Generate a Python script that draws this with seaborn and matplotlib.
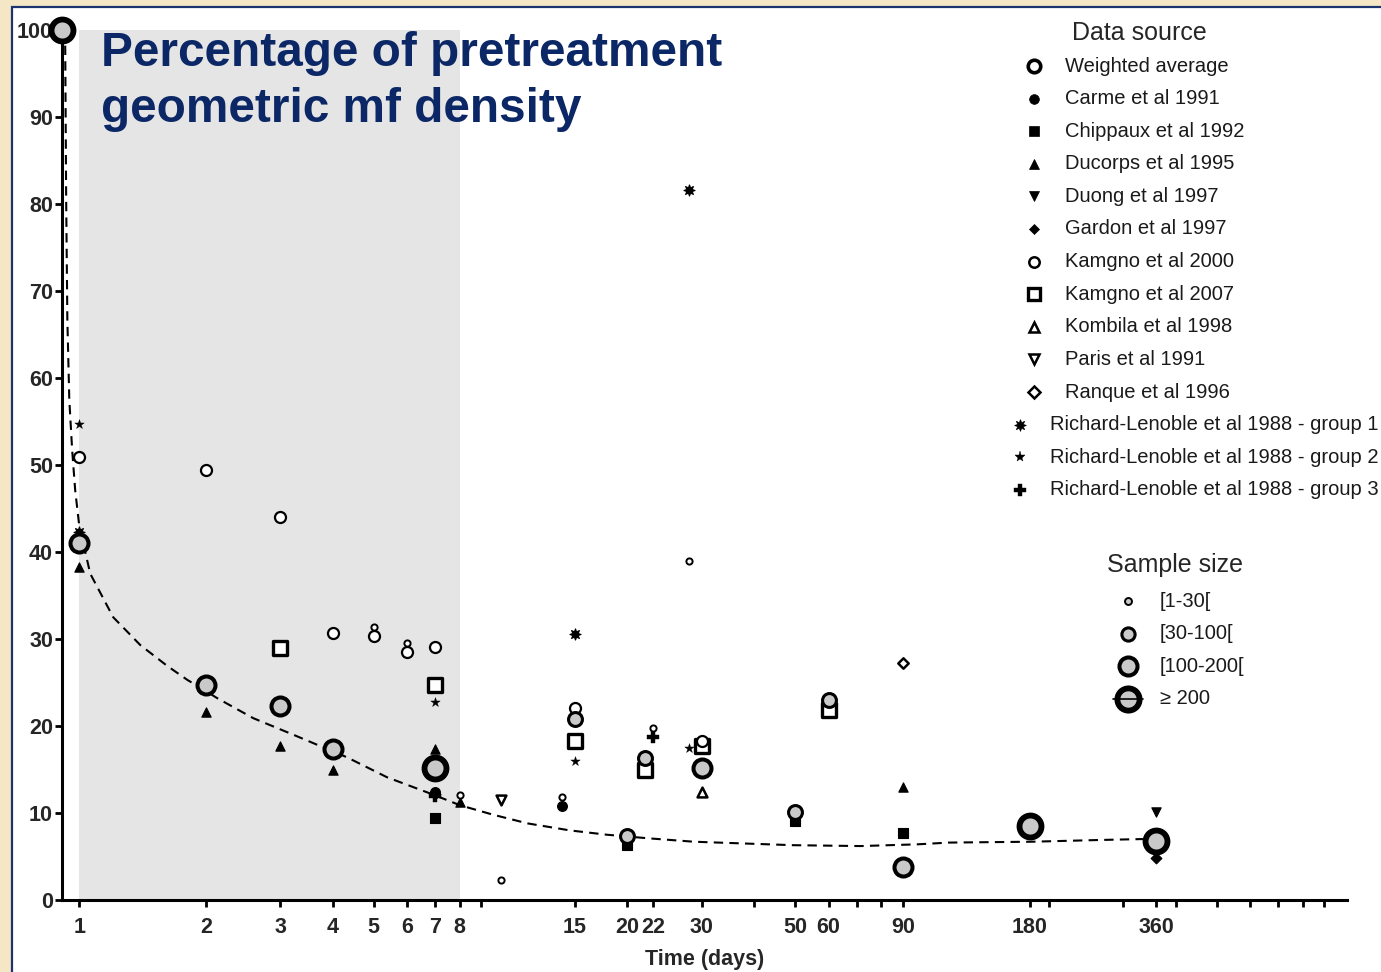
import matplotlib
matplotlib.use("Agg")
import matplotlib.pyplot as plt
import seaborn as sns
import pandas as pd
from matplotlib.lines import Line2D
from matplotlib.patches import Rectangle
from matplotlib.ticker import FixedLocator, FixedFormatter, NullFormatter

sns.set_theme(style="ticks")
plt.rcParams["font.family"] = ["Liberation Sans", "DejaVu Sans"]

W, H = 1381, 972

# ---- data ----
T0 = 0.91  # day 0, drawn on the y axis of the log scale

wa_t = [T0, 1, 2, 3, 4, 7, 15, 20, 22, 30, 50, 60, 90, 180, 360]
wa_y = [100, 41.0, 24.7, 22.3, 17.3, 15.2, 20.8, 7.4, 16.3, 15.2, 10.1, 23.0, 3.8, 8.5, 6.8]
wa_n = ["≥ 200", "[100-200[", "[100-200[", "[100-200[", "[100-200[", "≥ 200",
        "[30-100[", "[30-100[", "[30-100[", "[100-200[", "[30-100[", "[30-100[",
        "[100-200[", "≥ 200", "≥ 200"]

carme_t = [7, 14]
carme_y = [12.4, 10.8]
chippaux_t = [7, 20, 50, 90]
chippaux_y = [9.4, 6.3, 9.1, 7.7]
ducorps_t = [1, 2, 3, 4, 7, 8, 90]
ducorps_y = [38.3, 21.6, 17.7, 14.9, 17.3, 11.3, 13.0]
duong_t = [360]
duong_y = [10.1]
gardon_t = [7, 360]
gardon_y = [12.2, 4.8]
kamgno00_t = [1, 2, 3, 4, 5, 5, 6, 6, 7, 8, 10, 14, 15, 23, 28, 30]
kamgno00_y = [50.9, 49.4, 44.0, 30.7, 30.3, 31.4, 28.5, 29.5, 29.1, 12.1, 2.3, 11.8, 22.1, 19.8, 39.0, 18.3]
kamgno00_n = ["m", "m", "m", "m", "m", "s", "m", "s", "m", "s", "s", "s", "m", "s", "s", "m"]
kamgno07_t = [3, 7, 15, 22, 30, 60]
kamgno07_y = [29.0, 24.7, 18.3, 15.0, 17.7, 21.8]
kombila_t = [30]
kombila_y = [12.4]
paris_t = [10]
paris_y = [11.5]
ranque_t = [90]
ranque_y = [27.2]
rl1_t = [1, 15, 28]
rl1_y = [42.3, 30.6, 81.6]
rl2_t = [1, 7, 15, 28]
rl2_y = [54.7, 22.8, 16.0, 17.5]
rl3_t = [7, 23]
rl3_y = [12.0, 18.7]

# fitted curve, read point by point
fit_t = [0.925, 0.926, 0.931, 0.937, 0.947, 0.962, 0.978, 1.0, 1.062, 1.204, 1.396, 1.618,
         1.805, 2.0, 2.125, 2.588, 3.22, 4.32, 5.38, 6.93, 8.0, 9.6, 11.6, 14.6, 17.9, 22.3,
         28.7, 37.6, 49.5, 71.5, 97.6, 116, 183, 265, 330, 360]
fit_y = [100, 98.5, 80.5, 66.7, 57.5, 51.7, 47.1, 43.0, 37.5, 32.5, 29.3, 26.9,
         25.3, 24.0, 23.2, 20.9, 19.0, 16.4, 14.1, 12.1, 10.9, 9.8, 8.8, 8.0, 7.5, 7.1,
         6.7, 6.5, 6.3, 6.2, 6.4, 6.6, 6.7, 6.9, 7.0, 7.0]

xticks_major = [1, 2, 3, 4, 5, 6, 7, 8, 15, 20, 23, 30, 50, 60, 90, 180, 360]
xtick_labels = ["1", "2", "3", "4", "5", "6", "7", "8", "15", "20", "22", "30", "50", "60", "90", "180", "360"]
xticks_minor = [9, 40, 70, 80, 200, 300, 400, 500, 600, 700, 800, 900]
yticks = [0, 10, 20, 30, 40, 50, 60, 70, 80, 90, 100]

source_labels = ["Weighted average", "Carme et al 1991", "Chippaux et al 1992", "Ducorps et al 1995",
                 "Duong et al 1997", "Gardon et al 1997", "Kamgno et al 2000", "Kamgno et al 2007",
                 "Kombila et al 1998", "Paris et al 1991", "Ranque et al 1996",
                 "Richard-Lenoble et al 1988 - group 1", "Richard-Lenoble et al 1988 - group 2",
                 "Richard-Lenoble et al 1988 - group 3"]
size_labels = ["[1-30[", "[30-100[", "[100-200[", "≥ 200"]

# ---- styles ----
size_area = {"[1-30[": 25, "[30-100[": 100, "[100-200[": 168, "≥ 200": 250}
size_lw = {"[1-30[": 1.4, "[30-100[": 2.2, "[100-200[": 2.9, "≥ 200": 4.2}
gray_fill = "#c9c9c9"
navy = "#0b2766"

fig = plt.figure(figsize=(W / 100, H / 100), dpi=100)
fig.patch.set_facecolor("#f5e7c6")
fig.add_artist(Rectangle((12 / W, -0.01), 1.0, 1 - 7 / H + 0.01, transform=fig.transFigure,
                         facecolor="white", edgecolor="#1c3370", linewidth=1.6, zorder=0))

ax = fig.add_axes([62 / W, 72 / H, 1285 / W, 870 / H])
ax.set_facecolor("none")
ax.set_xscale("log")
ax.set_xlim(0.91, 1020)
ax.set_ylim(0, 100)
ax.axvspan(1, 8, color="#e5e5e5", zorder=0, lw=0)

sns.lineplot(x=fit_t, y=fit_y, ax=ax, color="black", linewidth=1.5, sort=False,
             estimator=None, linestyle=(0, (4.5, 3)), zorder=2)


def pts(t, y, marker, s, face, lw=0.8, z=3):
    sns.scatterplot(x=t, y=y, ax=ax, marker=marker, s=s, color=face, edgecolor="black",
                    linewidth=lw, zorder=z, clip_on=False, legend=False)


pts(carme_t, carme_y, "o", 50, "black")
pts(chippaux_t, chippaux_y, "s", 55, "black")
pts(ducorps_t, ducorps_y, "^", 45, "black")
pts(duong_t, duong_y, "v", 45, "black")
pts(gardon_t, gardon_y, "D", 30, "black")
pts(kombila_t, kombila_y, "^", 50, "white", lw=1.8)
pts(paris_t, paris_y, "v", 50, "white", lw=1.8)
pts(ranque_t, ranque_y, "D", 28, "white", lw=1.8)
pts(rl1_t, rl1_y, (8, 1, 0), 65, "black")
pts(rl2_t, rl2_y, "*", 50, "black", lw=0.3)
pts(rl3_t, rl3_y, "P", 75, "black", lw=0.3)
pts(kamgno07_t, kamgno07_y, "s", 90, "white", lw=2.4)

k00 = pd.DataFrame({"t": kamgno00_t, "y": kamgno00_y, "n": kamgno00_n})
for n, s, lw in [("m", 63, 1.6), ("s", 20, 1.4)]:
    d = k00[k00["n"] == n]
    pts(d["t"], d["y"], "o", s, "white", lw=lw, z=4)

wa = pd.DataFrame({"t": wa_t, "y": wa_y, "n": wa_n})
for n in size_labels:
    d = wa[wa["n"] == n]
    if len(d):
        pts(d["t"], d["y"], "o", size_area[n], gray_fill, lw=size_lw[n], z=5)

# axes styling
for side in ["top", "right"]:
    ax.spines[side].set_visible(False)
for side in ["left", "bottom"]:
    ax.spines[side].set_color("black")
    ax.spines[side].set_linewidth(2.2)
ax.xaxis.set_major_locator(FixedLocator(xticks_major))
ax.xaxis.set_major_formatter(FixedFormatter(xtick_labels))
ax.xaxis.set_minor_locator(FixedLocator(xticks_minor))
ax.xaxis.set_minor_formatter(NullFormatter())
ax.set_yticks(yticks)
ax.tick_params(axis="both", which="both", direction="out", length=5, width=2,
               color="black", labelsize=15.5)
ax.tick_params(axis="x", which="both", pad=7)
ax.tick_params(axis="y", which="both", pad=1.5)
for lab in ax.get_xticklabels() + ax.get_yticklabels():
    lab.set_fontweight("bold")
ax.set_xlabel("Time (days)", fontsize=15.5, fontweight="bold", labelpad=8)
ax.set_ylabel("")

# title
fig.text(101 / W, 1 - 66 / H, "Percentage of pretreatment", fontsize=34.4, fontweight="bold",
         color=navy, va="baseline", ha="left")
fig.text(101 / W, 1 - 122 / H, "geometric mf density", fontsize=34.4, fontweight="bold",
         color=navy, va="baseline", ha="left")

# legend: data source
src_styles = [
    dict(marker="o", ms=9, mfc="white", mew=2.6),
    dict(marker="o", ms=7, mfc="black", mew=0.5),
    dict(marker="s", ms=7, mfc="black", mew=0.5),
    dict(marker="^", ms=7, mfc="black", mew=0.5),
    dict(marker="v", ms=7, mfc="black", mew=0.5),
    dict(marker="D", ms=5, mfc="black", mew=0.5),
    dict(marker="o", ms=7.5, mfc="white", mew=1.8),
    dict(marker="s", ms=8, mfc="white", mew=2.4),
    dict(marker="^", ms=7.5, mfc="white", mew=1.8),
    dict(marker="v", ms=7.5, mfc="white", mew=1.8),
    dict(marker="D", ms=6, mfc="white", mew=1.8),
    dict(marker=(8, 1, 0), ms=8.5, mfc="black", mew=0.5),
    dict(marker="*", ms=8, mfc="black", mew=0.3),
    dict(marker="P", ms=9, mfc="black", mew=0.3),
]
fig.text(1139 / W, 1 - 33 / H, "Data source", fontsize=18, ha="center", va="center")
for i, (lab, st) in enumerate(zip(source_labels, src_styles)):
    yy = 1 - (66 + 32.6 * i) / H
    mx, tx = (1034, 1065) if i < 11 else (1020, 1050)
    fig.add_artist(Line2D([mx / W], [yy], mec="black", transform=fig.transFigure, **st))
    fig.text(tx / W, yy, lab, fontsize=14.5, va="center", ha="left", color="#1a1a1a")

# legend: sample size
size_ms = {"[1-30[": 5, "[30-100[": 9.5, "[100-200[": 13, "≥ 200": 16}
fig.text(1107 / W, 1 - 565 / H, "Sample size", fontsize=18, ha="left", va="center")
for i, lab in enumerate(size_labels):
    yy = 1 - (601 + 32.6 * i) / H
    fig.add_artist(Line2D([1128 / W], [yy], marker="o", ms=size_ms[lab], mfc=gray_fill,
                          mec="black", mew=size_lw[lab], transform=fig.transFigure))
    if lab == "≥ 200":
        fig.add_artist(Line2D([1113 / W, 1143 / W], [yy, yy], color="black", lw=1.2,
                              transform=fig.transFigure))
    fig.text(1160 / W, yy, lab, fontsize=14.5, va="center", ha="left", color="#1a1a1a")

fig.savefig("out.png", dpi=100, facecolor=fig.get_facecolor())
